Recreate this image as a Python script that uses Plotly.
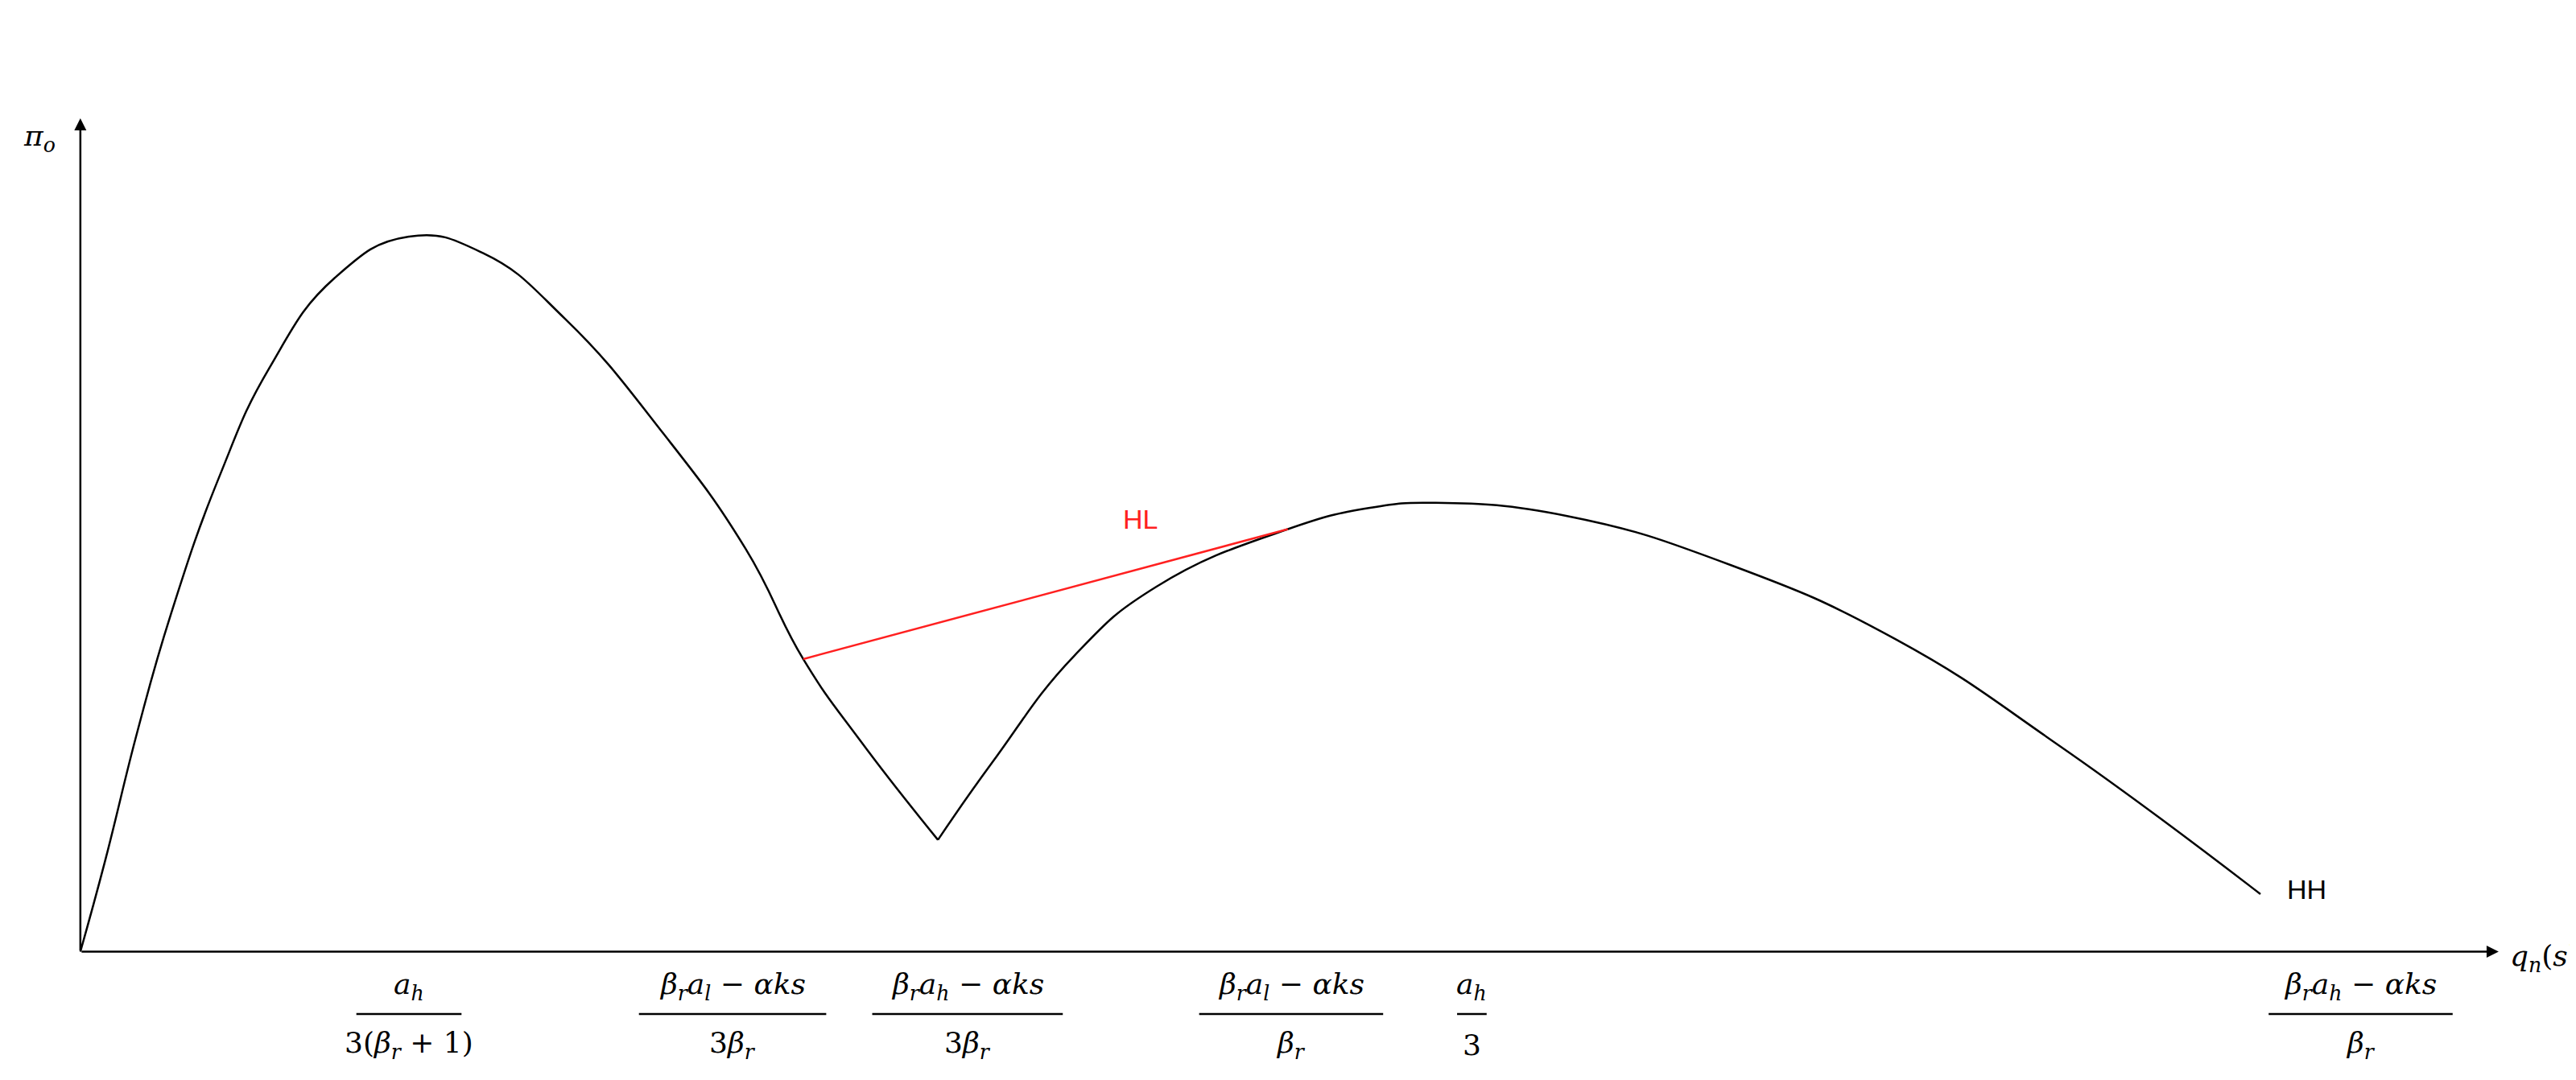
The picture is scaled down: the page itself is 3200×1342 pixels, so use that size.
import plotly.graph_objects as go

# curve (x right of origin, y above axis)
left_x = [0, 15, 35, 55, 85, 115, 155, 200, 245, 295, 355, 405, 440, 475, 522]
left_y = [0, 55, 135, 205, 290, 355, 410, 435, 425, 385, 315, 245, 178, 128, 68]
right_x = [522, 555, 605, 655, 735, 785, 825, 905, 1005, 1105, 1205, 1327]
right_y = [68, 115, 180, 222, 257, 270, 273, 265, 235, 190, 125, 35]
hl_x = [440, 735]
hl_y = [178, 257]

tick_x = [200, 397, 540, 737, 847, 1388]
tick_num = ["<i>a<sub>h</sub></i>", "<i>β<sub>r</sub>a<sub>l</sub></i> − <i>αks</i>",
            "<i>β<sub>r</sub>a<sub>h</sub></i> − <i>αks</i>", "<i>β<sub>r</sub>a<sub>l</sub></i> − <i>αks</i>",
            "<i>a<sub>h</sub></i>", "<i>β<sub>r</sub>a<sub>h</sub></i> − <i>αks</i>"]
tick_den = ["3(<i>β<sub>r</sub></i> + 1)", "3<i>β<sub>r</sub></i>", "3<i>β<sub>r</sub></i>",
            "<i>β<sub>r</sub></i>", "3", "<i>β<sub>r</sub></i>"]
tick_half = [32, 57, 58, 56, 9, 56]

FONT = dict(family="DejaVu Serif", size=36, color="black")

fig = go.Figure()
for xs, ys in [(left_x, left_y), (right_x, right_y)]:
    fig.add_trace(go.Scatter(x=xs, y=ys, mode="lines",
                             line=dict(color="black", width=2.5, shape="spline", smoothing=1.3)))
fig.add_trace(go.Scatter(x=hl_x, y=hl_y, mode="lines", line=dict(color="#ff2020", width=2.5)))

# axes with arrowheads
fig.add_annotation(x=1472, y=0, ax=0, ay=0, xref="x", yref="y", axref="x", ayref="y",
                   showarrow=True, arrowhead=2, arrowsize=1.2, arrowwidth=2.5, arrowcolor="black", text="")
fig.add_annotation(x=0, y=507, ax=0, ay=0, xref="x", yref="y", axref="x", ayref="y",
                   showarrow=True, arrowhead=2, arrowsize=1.2, arrowwidth=2.5, arrowcolor="black", text="")
fig.add_annotation(x=-25, y=495, text="<i>π<sub>o</sub></i>", showarrow=False, font=FONT)
fig.add_annotation(x=1500, y=-4, text="<i>q<sub>n</sub></i>(<i>s</i>)", showarrow=False, font=FONT)
fig.add_annotation(x=645, y=263, text="HL", showarrow=False, font=dict(family="Liberation Sans", size=34, color="#ff2020"))
fig.add_annotation(x=1355, y=38, text="HH", showarrow=False, font=dict(family="Liberation Sans", size=34, color="black"))

for x, n, d, h in zip(tick_x, tick_num, tick_den, tick_half):
    fig.add_annotation(x=x, y=-21, text=n, showarrow=False, font=FONT)
    fig.add_annotation(x=x, y=-57, text=d, showarrow=False, font=FONT)
    fig.add_shape(type="line", x0=x - h, x1=x + h, y0=-38, y1=-38, line=dict(color="black", width=2.5))

fig.update_layout(
    width=3200, height=1342, showlegend=False,
    plot_bgcolor="white", paper_bgcolor="white",
    margin=dict(l=0, r=0, t=0, b=0),
    xaxis=dict(range=[-45, 1523], visible=False),
    yaxis=dict(range=[-82, 575], visible=False),
)
fig.write_html("out.html")
